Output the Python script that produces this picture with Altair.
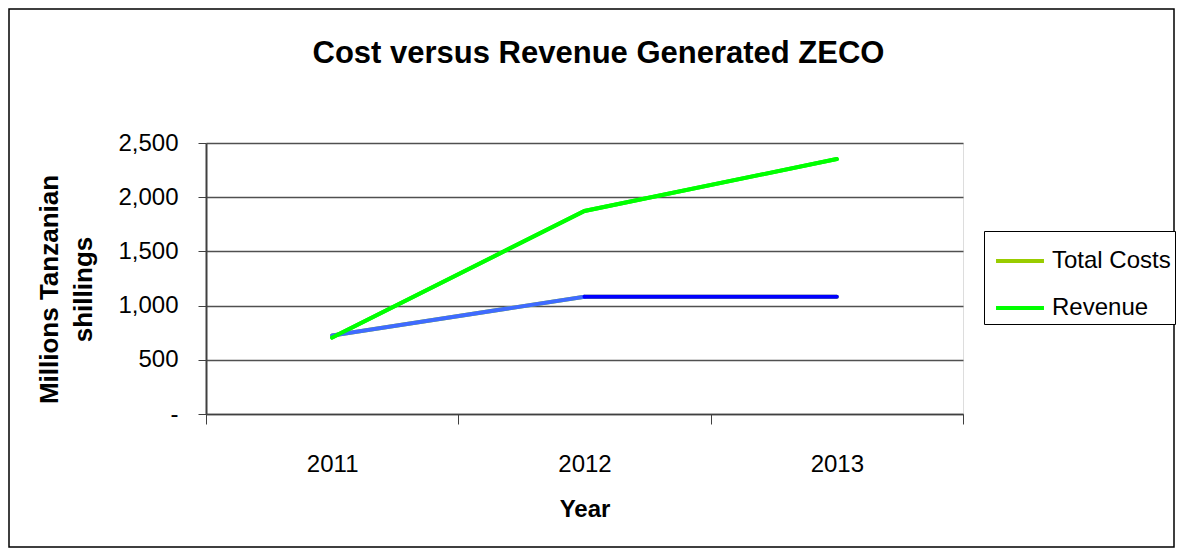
import altair as alt
import pandas as pd

years = ["2011", "2012", "2013"]
total_costs = [725, 1082, 1082]
revenue = [705, 1873, 2352]
series_names = ["Total Costs", "Revenue"]
legend_colors = ["#99CC00", "#00FF00"]
cost_segment_colors = ["#3F6BFF", "#0000FF"]
y_ticks = [0, 500, 1000, 1500, 2000, 2500]

FONT = "Liberation Sans, Arial"

long_df = pd.DataFrame(
    {"year": years * 2,
     "value": total_costs + revenue,
     "series": [series_names[0]] * len(years) + [series_names[1]] * len(years)}
)
rev_df = pd.DataFrame({"year": years, "value": revenue})
seg_rows = []
for i in range(len(years) - 1):
    for j in (i, i + 1):
        seg_rows.append({"year": years[j], "value": total_costs[j],
                         "seg": i, "col": cost_segment_colors[i]})
seg_df = pd.DataFrame(seg_rows)
frame_df = pd.DataFrame({"k": [0]})

W, H = 757, 271
PL, PT, PR, PB = 198, 135, 213, 135

x_enc = alt.X(
    "year:O", bandPosition=0.5,
    scale=alt.Scale(type="band", paddingInner=0, paddingOuter=0, domain=years),
    axis=alt.Axis(title="Year", labelAngle=0, tickBand="extent", grid=False,
                  labelFont=FONT, labelFontSize=24, labelColor="#000000",
                  labelPadding=28, tickSize=10, tickColor="#404040",
                  domainColor="#404040", domainWidth=1.5,
                  titleFont=FONT, titleFontSize=24, titleFontWeight="bold",
                  titleColor="#000000", titlePadding=21),
)
y_enc = alt.Y(
    "value:Q",
    scale=alt.Scale(domain=[0, 2500], nice=False),
    axis=alt.Axis(title=["Millions Tanzanian", "shillings"], values=y_ticks,
                  labelExpr="datum.value == 0 ? '-' : format(datum.value, ',')",
                  labelFont=FONT, labelFontSize=24, labelColor="#000000",
                  labelPadding=20, tickSize=8, tickColor="#404040",
                  domainColor="#404040", domainWidth=2,
                  gridColor="#505050", gridWidth=1.5, grid=True,
                  titleFont=FONT, titleFontSize=26,
                  titleFontWeight="bold", titleColor="#000000",
                  titleLineHeight=34, titlePadding=21, titleY=146),
)

frame = alt.Chart(frame_df).mark_rect(filled=False, stroke="#000000", strokeWidth=1.5).encode(
    x=alt.value(-PL + 1), x2=alt.value(W + PR - 2),
    y=alt.value(-PT + 1), y2=alt.value(H + PB - 2),
)

legend_layer = alt.Chart(long_df).mark_line(strokeWidth=4, strokeCap="round").encode(
    x=x_enc, y=y_enc,
    color=alt.Color("series:N",
                    scale=alt.Scale(domain=series_names, range=legend_colors),
                    sort=series_names,
                    legend=alt.Legend(title=None, orient="none", legendX=778, legendY=88,
                                      symbolType="stroke", symbolSize=2300,
                                      symbolStrokeWidth=4, symbolOffset=6,
                                      labelFont=FONT, labelFontSize=24,
                                      labelColor="#000000", labelOffset=6,
                                      rowPadding=9, padding=4,
                                      strokeColor="#000000", fillColor="#FFFFFF")),
)

cost_layer = alt.Chart(seg_df).mark_line(strokeWidth=4, strokeCap="round").encode(
    x=x_enc, y=y_enc,
    detail="seg:N",
    color=alt.Color("col:N", scale=None),
)

rev_layer = alt.Chart(rev_df).mark_line(strokeWidth=4, strokeCap="round", color="#00FF00").encode(
    x=x_enc, y=y_enc,
)

chart = alt.layer(frame, legend_layer, cost_layer, rev_layer).properties(
    width=W, height=H,
    title=alt.TitleParams("Cost versus Revenue Generated ZECO", font=FONT, fontSize=31,
                          fontWeight="bold", color="#000000", anchor="middle",
                          baseline="alphabetic",
                          frame="group", dx=14, offset=-86),
    autosize=alt.AutoSizeParams(type="none"),
    padding={"left": PL, "top": PT, "right": PR, "bottom": PB},
).configure_view(
    fill="#C0C0C0", stroke="#808080", strokeWidth=1.5,
).configure(background="#FFFFFF")

chart.save("out.html", embed_options={"renderer": "svg", "actions": False})
